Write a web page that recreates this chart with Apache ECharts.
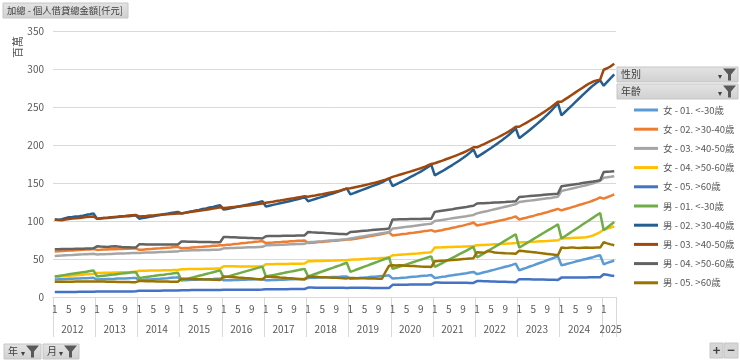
<!DOCTYPE html>
<html>
<head>
<meta charset="utf-8">
<script src="https://cdn.jsdelivr.net/npm/echarts@6/dist/echarts.min.js"></script>
<style>
html,body{margin:0;padding:0;background:#fff;}
#chart{width:740px;height:363px;}
</style>
</head>
<body>
<div id="chart"></div>
<script>
// ---- tick labels / categories ----
const years = ['2012','2013','2014','2015','2016','2017','2018','2019','2020','2021','2022','2023','2024','2025'];
const monthsInYear = [12,12,12,12,12,12,12,12,12,12,12,12,12,4];
const yAxisTicks = [0, 350, 50];
const chartTitle = '加總 - 個人借貸總金額[仟元]';
const yUnit = '百萬';

const seriesNames = [
  '女 - 01. <-30歲','女 - 02. >30-40歲','女 - 03. >40-50歲','女 - 04. >50-60歲','女 - 05. >60歲',
  '男 - 01. <-30歲','男 - 02. >30-40歲','男 - 03. >40-50歲','男 - 04. >50-60歲','男 - 05. >60歲'
];
const seriesColors = ['#5B9BD5','#ED7D31','#A5A5A5','#FFC000','#4472C4','#70AD47','#255E91','#9E480E','#636363','#997300'];

// ---- series values (百萬), monthly 2012-01 .. 2025-04 ----
const f01 = [
23.0,23.2,23.5,23.7,23.9,24.0,24.3,24.4,24.6,24.8,25.0,25.2,
23.0,23.2,23.3,23.6,23.8,23.9,24.2,24.3,24.5,24.8,24.9,25.1,
22.2,22.5,22.9,23.1,23.5,23.8,24.1,24.5,24.8,25.2,25.5,26.0,
22.0,22.2,22.3,22.6,22.7,22.9,23.0,23.3,23.4,23.6,23.9,24.1,
21.9,22.0,22.2,22.3,22.5,22.6,22.8,22.9,23.1,23.2,23.4,23.6,
22.0,22.1,22.3,22.5,22.6,22.8,23.0,23.2,23.3,23.6,23.8,24.0,
25.0,25.2,25.3,25.6,25.7,25.9,26.1,26.3,26.4,26.6,26.9,27.0,
24.1,24.5,24.8,25.3,25.6,26.0,26.5,26.8,27.2,27.7,28.0,28.5,
24.2,24.6,24.9,25.4,25.7,26.2,26.7,27.0,27.6,28.0,28.4,29.0,
25.1,25.7,26.5,27.1,27.9,28.5,29.3,29.9,30.7,31.3,32.2,33.0,
30.1,31.2,32.5,33.6,34.9,36.0,37.3,38.4,39.7,40.8,42.3,44.0,
35.0,36.8,38.3,40.1,41.6,43.4,45.0,46.6,48.5,50.0,51.9,53.5,
41.7,42.8,44.2,45.2,46.6,47.6,49.0,50.0,51.4,52.4,53.9,55.0,
43.0,44.9,46.4,48.0];
const f02 = [
60.0,60.2,60.6,60.8,61.1,61.3,61.5,61.9,62.1,62.4,62.6,63.0,
62.0,62.1,62.4,62.5,62.8,62.9,63.1,63.2,63.5,63.6,63.9,64.0,
62.1,62.3,62.8,63.0,63.5,63.8,64.1,64.6,64.9,65.2,65.7,66.0,
64.0,64.4,64.6,65.1,65.3,65.8,66.0,66.5,66.7,67.3,67.5,68.0,
68.0,68.6,68.9,69.6,69.9,70.6,70.9,71.6,71.9,72.6,72.9,73.6,
71.0,71.4,71.6,72.0,72.2,72.6,72.8,73.3,73.5,73.9,74.1,74.5,
71.0,71.5,71.8,72.3,72.5,73.1,73.3,73.9,74.1,74.7,74.9,75.5,
75.5,76.4,77.0,78.0,78.6,79.6,80.2,81.2,81.8,82.9,83.7,85.0,
81.0,81.7,82.1,82.9,83.3,84.1,84.5,85.3,85.8,86.7,87.2,88.0,
86.0,87.1,87.9,89.1,89.9,91.1,91.9,93.1,93.9,95.2,96.3,98.0,
94.0,95.1,95.9,97.1,97.9,99.1,99.9,101.1,101.9,103.2,104.4,106.0,
102.0,103.3,104.3,105.7,106.7,108.1,109.1,110.5,111.6,113.1,114.4,116.0,
114.0,115.5,116.7,118.3,119.5,121.1,122.3,123.9,125.2,127.0,128.8,131.0,
129.5,131.2,133.0,135.0];
const f03 = [
54.0,54.3,54.5,54.8,55.1,55.3,55.6,55.9,56.1,56.4,56.7,57.0,
56.0,56.2,56.4,56.5,56.7,56.9,57.1,57.3,57.4,57.6,57.8,58.0,
58.0,58.2,58.4,58.5,58.7,58.9,59.1,59.3,59.4,59.6,59.8,60.0,
61.0,61.1,61.3,61.4,61.5,61.6,61.8,61.9,62.0,62.2,62.3,62.5,
64.0,64.2,64.4,64.5,64.7,64.9,65.1,65.3,65.4,65.6,65.8,66.0,
68.0,68.2,68.4,68.5,68.7,68.9,69.1,69.3,69.4,69.6,69.8,70.0,
72.0,72.4,72.7,73.1,73.4,73.8,74.2,74.5,74.9,75.2,75.6,76.0,
77.0,77.8,78.5,79.3,80.1,80.8,81.6,82.4,83.1,83.9,84.7,85.5,
90.0,90.6,91.2,91.8,92.3,92.9,93.5,94.1,94.7,95.3,95.9,96.5,
100.0,100.7,101.4,102.1,102.8,103.5,104.2,104.9,105.6,106.3,107.1,108.0,
110.0,111.1,112.2,113.2,114.3,115.4,116.5,117.6,118.7,119.8,120.9,122.0,
125.0,125.6,126.2,126.8,127.4,128.0,128.6,129.2,129.8,130.4,131.2,132.0,
139.5,140.6,141.6,142.7,143.8,144.9,146.0,147.1,148.2,149.5,151.2,153.0,
157.0,157.5,158.2,159.0];
const f04 = [
26.5,26.8,27.2,27.6,28.0,28.3,28.7,29.0,29.4,29.8,30.1,30.5,
31.5,31.6,31.8,31.9,32.0,32.2,32.3,32.5,32.6,32.7,32.9,33.0,
34.5,34.6,34.7,34.8,34.9,35.0,35.0,35.1,35.2,35.3,35.4,35.5,
36.5,36.6,36.7,36.7,36.8,36.9,37.0,37.1,37.2,37.3,37.4,37.5,
40.4,40.4,40.3,40.3,40.2,40.2,40.1,40.1,40.0,40.0,40.0,40.0,
43.0,43.1,43.2,43.3,43.3,43.4,43.5,43.6,43.7,43.8,43.9,44.0,
47.0,47.1,47.3,47.4,47.5,47.7,47.8,47.9,48.1,48.2,48.4,48.5,
49.0,49.3,49.5,49.8,50.0,50.3,50.5,50.8,51.0,51.3,51.6,52.0,
55.0,55.3,55.7,56.0,56.3,56.7,57.0,57.3,57.7,58.1,58.5,59.0,
65.0,65.2,65.3,65.5,65.7,65.8,66.0,66.2,66.3,66.5,66.8,67.0,
68.0,68.3,68.5,68.8,69.0,69.3,69.5,69.8,70.0,70.3,70.6,71.0,
71.6,71.9,72.1,72.4,72.7,72.9,73.2,73.5,73.7,74.0,74.3,74.6,
77.0,77.2,77.4,77.6,77.8,78.0,78.3,78.6,79.5,81.0,83.2,85.5,
88.6,90.0,91.5,93.0];
const f05 = [
6.6,6.6,6.6,6.7,6.7,6.7,6.7,6.8,6.8,6.8,6.8,6.9,
7.2,7.2,7.2,7.3,7.3,7.3,7.3,7.4,7.4,7.4,7.4,7.5,
8.2,8.2,8.2,8.3,8.3,8.3,8.3,8.4,8.4,8.4,8.4,8.5,
9.0,9.0,9.0,9.1,9.1,9.1,9.1,9.2,9.2,9.2,9.2,9.3,
9.5,9.5,9.5,9.6,9.6,9.6,9.6,9.7,9.7,9.7,9.7,9.8,
10.2,10.2,10.2,10.3,10.3,10.3,10.3,10.4,10.4,10.4,10.4,10.5,
12.4,12.4,12.3,12.3,12.3,12.2,12.2,12.2,12.1,12.1,12.1,12.0,
12.3,12.3,12.2,12.2,12.1,12.1,12.0,12.0,11.9,11.9,11.8,11.8,
16.0,16.1,16.1,16.2,16.2,16.3,16.3,16.4,16.4,16.5,16.5,16.6,
19.0,19.0,18.9,18.9,18.8,18.8,18.7,18.7,18.6,18.6,18.5,18.5,
21.0,20.9,20.7,20.6,20.5,20.4,20.2,20.1,20.0,19.8,19.7,19.5,
23.5,23.4,23.3,23.2,23.1,23.0,22.9,22.9,22.8,22.7,22.6,22.5,
25.5,25.5,25.6,25.6,25.7,25.7,25.8,25.8,25.9,25.9,26.0,26.0,
30.0,29.2,28.3,27.5];
const m01 = [
27.0,27.7,28.4,29.1,29.8,30.5,31.2,31.9,32.6,33.3,34.2,35.0,
27.0,27.5,28.1,28.6,29.2,29.7,30.3,30.8,31.4,31.9,32.5,33.0,
25.0,25.6,26.3,26.9,27.5,28.2,28.8,29.4,30.1,30.7,31.4,32.0,
22.0,23.2,24.3,25.5,26.7,27.9,29.0,30.2,31.4,32.6,33.8,35.0,
25.5,26.8,28.1,29.5,30.8,32.1,33.4,34.7,36.0,37.3,38.7,40.0,
27.0,27.9,28.8,29.7,30.6,31.5,32.5,33.4,34.3,35.2,36.1,37.0,
27.0,28.6,30.3,31.9,33.5,35.2,36.8,38.4,40.1,41.7,43.4,45.0,
33.0,34.7,36.5,38.2,39.9,41.6,43.4,45.1,46.8,48.5,50.3,52.0,
37.0,38.5,40.0,41.5,43.0,44.5,46.0,47.5,49.0,50.5,52.0,53.5,
39.5,41.9,44.3,46.7,49.1,51.5,53.9,56.3,58.7,61.1,63.6,66.0,
52.0,54.8,57.5,60.3,63.1,65.8,68.6,71.4,74.2,77.0,79.7,82.5,
65.0,67.8,70.6,73.3,76.1,78.9,81.7,84.5,87.3,90.0,92.8,95.6,
77.0,80.0,83.1,86.1,89.2,92.2,95.3,98.3,101.4,104.4,107.5,110.5,
87.8,91.5,95.1,98.7];
const m02 = [
102.0,101.6,102.4,103.8,104.9,105.3,105.9,106.4,107.0,108.1,108.9,110.0,
103.0,103.2,103.8,104.1,104.5,105.0,105.2,105.8,106.1,106.4,106.9,107.5,
103.0,103.9,104.6,105.5,106.2,107.2,108.0,108.8,109.6,110.4,111.2,112.0,
110.0,110.8,111.9,112.7,113.8,114.6,115.8,116.6,117.7,118.6,119.7,120.6,
115.0,115.9,116.9,117.8,118.7,119.8,120.7,121.6,122.6,123.6,124.8,126.0,
119.0,120.1,121.2,122.2,123.3,124.3,125.4,126.4,127.5,128.5,130.0,131.6,
126.0,127.5,128.9,130.4,131.8,133.3,134.8,136.2,137.8,139.4,141.2,143.0,
135.0,136.7,138.5,140.2,142.0,143.8,145.5,147.3,149.0,150.9,153.3,156.0,
146.0,148.2,150.5,152.8,155.2,157.6,160.0,162.5,165.0,167.8,170.8,174.0,
160.0,162.6,165.2,168.0,170.8,173.6,176.6,179.6,182.8,186.2,190.0,194.0,
184.0,187.0,190.0,193.0,196.1,199.3,202.5,205.9,209.4,213.2,217.4,222.0,
209.0,212.5,216.1,219.8,223.6,227.5,231.5,235.6,239.9,244.6,249.7,255.0,
239.0,243.4,247.8,252.2,256.7,261.2,265.6,270.0,274.3,278.4,282.0,285.0,
278.0,283.0,288.0,293.0];
const m03 = [
102.0,101.2,101.0,101.8,102.6,103.2,103.5,104.0,104.6,105.1,105.6,106.0,
103.0,103.5,104.0,104.3,104.9,105.4,105.8,106.3,106.7,107.2,107.6,108.0,
106.0,106.4,106.7,107.1,107.4,107.8,108.2,108.6,108.9,109.3,109.6,110.0,
110.0,110.7,111.4,112.1,112.8,113.5,114.2,114.9,115.6,116.4,117.2,118.0,
117.0,117.5,118.0,118.5,119.0,119.5,120.0,120.5,121.0,121.6,122.3,123.0,
124.0,124.7,125.4,126.2,126.9,127.7,128.5,129.3,130.1,130.9,131.7,132.5,
132.0,132.8,133.6,134.5,135.3,136.2,137.1,138.0,138.9,139.8,141.2,142.6,
143.0,144.0,145.0,146.0,147.1,148.2,149.3,150.4,151.6,152.9,154.4,156.0,
158.0,159.4,160.8,162.2,163.6,165.0,166.4,167.9,169.4,171.0,173.0,175.0,
176.0,177.6,179.2,180.9,182.6,184.3,186.1,187.9,189.8,191.9,194.4,197.0,
197.0,199.1,201.2,203.4,205.6,207.9,210.2,212.6,215.1,217.8,220.8,224.0,
224.0,226.6,229.2,231.9,234.6,237.4,240.3,243.3,246.4,249.7,253.3,257.0,
257.0,260.0,263.0,266.1,269.2,272.3,275.4,278.4,281.2,283.5,285.0,286.0,
299.0,301.0,303.5,307.0];
const m04 = [
62.8,62.9,63.0,63.1,63.2,63.3,63.4,63.5,63.6,63.7,63.8,64.0,
66.7,66.4,66.2,65.9,66.5,66.8,66.3,65.9,65.6,65.4,65.2,65.0,
69.3,69.3,69.2,69.2,69.2,69.1,69.1,69.1,69.0,69.0,69.0,69.0,
73.0,72.9,72.8,72.7,72.6,72.5,72.5,72.4,72.3,72.2,72.1,72.0,
79.0,78.8,78.6,78.5,78.3,78.1,77.9,77.7,77.5,77.3,77.2,77.0,
80.0,80.1,80.2,80.3,80.4,80.5,80.5,80.6,80.7,80.8,80.9,81.0,
85.5,85.2,85.0,84.7,84.4,84.1,83.9,83.6,83.3,83.0,82.8,82.5,
85.5,85.9,86.3,86.7,87.1,87.5,88.0,88.4,88.8,89.2,89.6,90.0,
102.0,102.1,102.2,102.3,102.4,102.5,102.5,102.6,102.7,102.8,102.9,103.0,
112.0,112.7,113.5,114.2,114.9,115.6,116.4,117.1,117.8,118.5,119.3,120.0,
123.0,123.3,123.5,123.8,124.0,124.3,124.5,124.8,125.0,125.3,125.6,126.0,
131.6,132.0,132.4,132.8,133.2,133.6,134.0,134.4,134.8,135.2,135.6,136.0,
145.6,146.3,147.0,147.7,148.4,149.1,149.9,150.6,151.3,152.0,152.8,153.6,
164.5,164.8,165.0,165.5];
const m05 = [
20.0,20.0,20.1,20.1,20.2,20.2,20.3,20.3,20.4,20.4,20.5,20.5,
20.5,20.4,20.3,20.2,20.1,20.0,19.9,19.8,19.7,19.6,19.5,19.5,
21.0,20.9,20.8,20.7,20.6,20.5,20.5,20.4,20.3,20.2,20.1,20.0,
24.0,23.9,23.7,23.6,23.5,23.4,23.2,23.1,23.0,22.8,22.7,22.5,
27.0,26.6,26.3,26.0,25.6,25.3,24.9,24.6,24.2,23.8,23.4,23.0,
27.0,26.6,26.3,26.0,25.6,25.3,24.9,24.6,24.2,23.8,23.4,23.0,
27.0,26.8,26.6,26.3,26.1,25.9,25.6,25.4,25.2,24.9,24.7,24.5,
25.0,24.9,24.8,24.7,24.6,24.4,24.3,24.2,24.0,24.0,33.0,41.0,
41.7,41.6,41.9,41.3,41.0,40.7,40.9,40.4,40.1,39.9,39.7,39.5,
47.0,47.3,47.7,48.0,48.4,48.7,49.1,49.5,49.9,50.2,50.6,51.0,
59.0,58.6,58.2,60.5,59.7,58.6,58.1,57.9,57.6,57.4,57.2,57.0,
61.0,60.5,60.0,59.4,58.9,58.4,57.8,57.3,56.7,56.1,55.6,55.0,
65.0,64.6,64.8,65.3,64.9,64.6,64.8,65.0,64.7,64.9,65.2,65.0,
72.0,70.5,69.2,68.0];

const seriesValues = [f01,f02,f03,f04,f05,m01,m02,m03,m04,m05];

// ---- build categories ----
const monthCats = [];
const yearCats = [];
const yearLabelIdx = {};
let idx = 0;
years.forEach((y, k) => {
  const n = monthsInYear[k];
  for (let m = 1; m <= n; m++) {
    monthCats.push(String(m));
    yearCats.push(y);
    idx++;
  }
  yearLabelIdx[idx - n + Math.floor((n - 1) / 2) + (n === 12 ? 0 : 1)] = true;
});

const FONT = '"Noto Sans CJK TC", "Noto Sans", sans-serif';
const chart = echarts.init(document.getElementById('chart'), null, {renderer: 'canvas'});

function funnel(x, y) {
  return {
    type: 'polygon',
    shape: {points: [[x, y], [x + 13, y], [x + 8, y + 6], [x + 8, y + 12], [x + 5, y + 12], [x + 5, y + 6]]},
    style: {fill: '#595959'}
  };
}
function button(x, y, w, h, label, withFunnel, fs) {
  const els = [
    {type: 'rect', shape: {x: x, y: y, width: w, height: h},
     style: {fill: new echarts.graphic.LinearGradient(0, 0, 0, 1, [{offset: 0, color: '#e4e4e4'}, {offset: 1, color: '#d0d0d0'}]), stroke: '#c6c6c6', lineWidth: 1}},
    {type: 'text', x: x + 4, y: y + h / 2, style: {text: label, fill: '#404040', font: (fs || 10) + 'px ' + FONT, verticalAlign: 'middle'}}
  ];
  if (withFunnel) {
    els.push({type: 'text', x: x + w - 20, y: y + h / 2 + 1, style: {text: '▾', fill: '#404040', font: '8px ' + FONT, verticalAlign: 'middle'}});
    els.push(funnel(x + w - 15, y + 1.5));
  }
  return els;
}

const graphics = [].concat(
  button(3, 3, 125, 15, chartTitle, false, 9.3),
  button(617, 67, 121, 15, '性別', true),
  button(617, 84, 121, 15, '年齡', true),
  button(4, 344, 37, 15, '年', true),
  button(43, 344, 36, 15, '月', true),
  [
    {type: 'rect', shape: {x: 710, y: 343, width: 13, height: 15}, style: {fill: '#d6d6d6', stroke: '#c6c6c6'}},
    {type: 'text', x: 716.5, y: 350.5, style: {text: '+', fill: '#404040', font: 'bold 13px ' + FONT, align: 'center', verticalAlign: 'middle'}},
    {type: 'rect', shape: {x: 724, y: 343, width: 14, height: 15}, style: {fill: '#d6d6d6', stroke: '#c6c6c6'}},
    {type: 'text', x: 731, y: 350.5, style: {text: '−', fill: '#404040', font: 'bold 13px ' + FONT, align: 'center', verticalAlign: 'middle'}},
    {type: 'text', x: 18, y: 47, rotation: Math.PI / 2,
     style: {text: yUnit, fill: '#595959', font: '11px ' + FONT, align: 'center', verticalAlign: 'middle'}}
  ]
);

const option = {
  animation: false,
  backgroundColor: '#ffffff',
  textStyle: {fontFamily: FONT},
  grid: {left: 53, right: 124, top: 31, bottom: 66},
  legend: {
    orient: 'vertical',
    left: 634, top: 104, padding: 0,
    icon: 'rect',
    itemWidth: 24, itemHeight: 3,
    itemGap: 7.2,
    textStyle: {color: '#595959', fontSize: 9.5, lineHeight: 12, fontFamily: FONT},
    data: seriesNames
  },
  xAxis: [
    {
      type: 'category', data: monthCats, boundaryGap: true,
      axisLine: {show: true, lineStyle: {color: '#d9d9d9', width: 1}},
      axisTick: {show: true, interval: (i) => i % 12 === 0, length: 40, lineStyle: {color: '#d9d9d9'}},
      axisLabel: {interval: (i) => (i % 12) % 4 === 0, color: '#595959', fontSize: 10, margin: 7, fontFamily: FONT},
      splitLine: {show: false}
    },
    {
      type: 'category', data: yearCats, boundaryGap: true, position: 'bottom', offset: 20,
      axisLine: {show: false}, axisTick: {show: false},
      axisLabel: {interval: (i) => !!yearLabelIdx[i], color: '#595959', fontSize: 10, margin: 7, fontFamily: FONT},
      splitLine: {show: false}
    }
  ],
  yAxis: {
    type: 'value', min: yAxisTicks[0], max: yAxisTicks[1], interval: yAxisTicks[2],
    axisLine: {show: false}, axisTick: {show: false},
    axisLabel: {color: '#595959', fontSize: 10, margin: 9, fontFamily: FONT},
    splitLine: {lineStyle: {color: '#d9d9d9', width: 1}}
  },
  series: seriesNames.map((name, i) => ({
    name: name, type: 'line', data: seriesValues[i], xAxisIndex: 0,
    symbol: 'none', showSymbol: false,
    lineStyle: {color: seriesColors[i], width: 2.5},
    itemStyle: {color: seriesColors[i]}
  })),
  graphic: graphics
};
chart.setOption(option);
</script>
</body>
</html>
